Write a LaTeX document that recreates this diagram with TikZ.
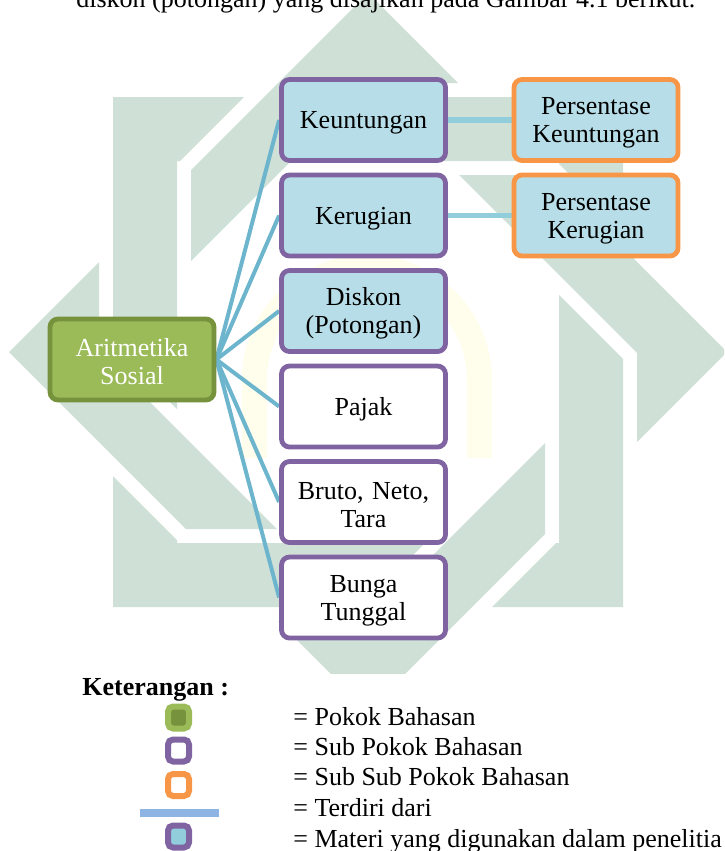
\documentclass[tikz,border=0pt]{standalone}
\usepackage{fontspec}
\setmainfont{Liberation Serif}
\definecolor{wmgreen}{RGB}{207,224,215}
\definecolor{wmyellow}{RGB}{255,253,236}
\definecolor{boxblue}{RGB}{183,222,232}
\definecolor{purp}{RGB}{128,100,162}
\definecolor{orng}{RGB}{247,150,70}
\definecolor{grnfill}{RGB}{155,187,89}
\definecolor{grndark}{RGB}{118,146,60}
\definecolor{fanline}{RGB}{108,181,205}
\definecolor{hline}{RGB}{146,205,220}
\definecolor{legline}{RGB}{142,180,227}
\definecolor{legblue}{RGB}{146,205,220}
\pgfdeclarelayer{wm}
\pgfdeclarelayer{edges}
\pgfsetlayers{wm,edges,main}
\begin{document}
\begin{tikzpicture}[x=0.5pt,y=-0.5pt,
  txt/.style={font=\fontsize{13}{14}\selectfont},
  box/.style={txt, rounded corners=4pt, line width=2.4pt, minimum width=82pt,
    minimum height=40.5pt, inner sep=0pt, align=center, text width=80pt,
    execute at begin node={\rule{0pt}{11.6pt}}},
  subbox/.style={box, draw=purp, fill=boxblue},
  subwhite/.style={box, draw=purp, fill=white},
  subsub/.style={box, draw=orng, fill=boxblue},
  mainbox/.style={box, draw=grndark, fill=grnfill, text=white},
  fan/.style={draw=fanline, line width=2pt},
  link/.style={draw=hline, line width=2.6pt},
  legicon/.style={rounded corners=2.5pt, line width=3pt, minimum width=10.5pt,
    minimum height=11pt, inner sep=0pt},
  legtext/.style={txt, anchor=base west, inner sep=0pt}
]
\useasboundingbox (0,0) rectangle (724,851);
\clip (0,0) rectangle (724,851);

% watermark
\begin{pgfonlayer}{wm}
\begin{scope}
\clip (0,0) rectangle (724,673);
\fill[wmyellow] (242,458) -- (242,380) arc[start angle=180, end angle=360, radius=125]
  -- (492,458) -- (467,458) -- (467,380) arc[start angle=0, end angle=-180, radius=100]
  -- (267,458) -- cycle;
\fill[wmgreen] (559,295) -- (623,359) -- (623,607) -- (492,607) -- (556,543) -- (559,543) -- cycle;
\fill[wmgreen] (311,161) -- (375,97) -- (623,97) -- (623,228) -- (559,164) -- (559,161) -- cycle;
\fill[wmgreen] (177,409) -- (113,345) -- (113,97) -- (244,97) -- (180,161) -- (177,161) -- cycle;
\fill[wmgreen] (425,543) -- (361,607) -- (113,607) -- (113,476) -- (177,540) -- (177,543) -- cycle;
\fill[wmgreen] (459,175) -- (550,175) -- (727,352) -- (637,442) -- (637,353) -- cycle;
\fill[wmgreen] (191,261) -- (191,170) -- (368,-7) -- (458,83) -- (369,83) -- cycle;
\fill[wmgreen] (277,529) -- (186,529) -- (9,352) -- (99,262) -- (99,351) -- cycle;
\fill[wmgreen] (545,443) -- (545,534) -- (368,711) -- (278,621) -- (367,621) -- cycle;
\end{scope}
\end{pgfonlayer}

% top text (cut off by the page edge, as in the source)
\node[txt, anchor=base west, inner sep=0pt] (toptext) at (76,8)
  {diskon (potongan) yang disajikan pada Gambar 4.1 berikut.};

% nodes
\node[mainbox] (ar) at (132,359.5) {Aritmetika\\Sosial};
\node[subbox] (ku) at (363.5,120) {Keuntungan};
\node[subbox] (kr) at (363.5,215.5) {Kerugian};
\node[subbox] (dk) at (363.5,311) {Diskon\\(Potongan)};
\node[subwhite] (pj) at (363.5,406.5) {Pajak};
\node[subwhite] (bt) at (363.5,502) {Bruto, Neto,\\Tara};
\node[subwhite] (bg) at (363.5,597.5) {Bunga\\Tunggal};
\node[subsub] (pku) at (596,120) {Persentase\\Keuntungan};
\node[subsub] (pkr) at (596,215.5) {Persentase\\Kerugian};

\begin{pgfonlayer}{edges}
\foreach \t in {ku,kr,dk,pj,bt,bg} \draw[fan] (ar.east) -- (\t.west);
\draw[link] (ku.east) -- (pku.west);
\draw[link] (kr.east) -- (pkr.west);
\end{pgfonlayer}

% legend
\node[anchor=base west, inner sep=0pt, font=\bfseries\fontsize{13}{14}\selectfont] (ket) at (82,695) {Keterangan :};
\node[legicon, draw=grnfill, fill=grndark] (i1) at (178.5,717.5) {};
\node[legicon, draw=purp, fill=white] (i2) at (178.5,750.5) {};
\node[legicon, draw=orng, fill=white] (i3) at (178.5,785) {};
\coordinate (l1) at (140,813);
\coordinate (l2) at (219,813);
\draw[draw=legline, line width=3.7pt] (l1) -- (l2);
\node[legicon, draw=purp, fill=legblue] (i5) at (178.5,836.5) {};
\node[legtext] (t1) at (293,725) {= Pokok Bahasan};
\node[legtext] (t2) at (293,755) {= Sub Pokok Bahasan};
\node[legtext] (t3) at (293,785) {= Sub Sub Pokok Bahasan};
\node[legtext] (t4) at (293,816) {= Terdiri dari};
\node[legtext] (t5) at (293,847) {= Materi yang digunakan dalam penelitia};
\end{tikzpicture}
\end{document}
